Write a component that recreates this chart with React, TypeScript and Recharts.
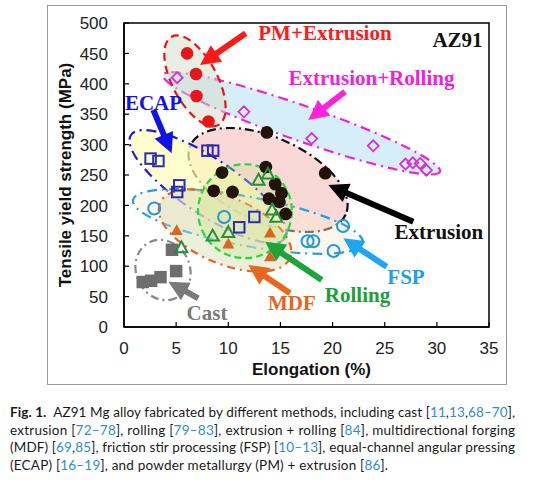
import React from 'react'
import {
  ScatterChart,
  Scatter,
  XAxis,
  YAxis,
  ReferenceArea,
  ReferenceLine,
  ReferenceDot,
} from 'recharts'

type P = { x: number; y: number }

const X_TICKS = [0, 5, 10, 15, 20, 25, 30, 35]
const Y_TICKS = [0, 50, 100, 150, 200, 250, 300, 350, 400, 450, 500]

// elongation (%) vs tensile yield strength (MPa)
const CAST: P[] = [
  { x: 1.8, y: 74 }, { x: 2.6, y: 76 }, { x: 3.5, y: 82 }, { x: 5.0, y: 92 }, { x: 4.6, y: 127 },
]
const EXTRUSION: P[] = [
  { x: 13.7, y: 320 }, { x: 19.3, y: 253 }, { x: 13.6, y: 263 }, { x: 9.4, y: 254 },
  { x: 8.6, y: 224 }, { x: 10.4, y: 222 }, { x: 14.5, y: 235 }, { x: 15.1, y: 220 },
  { x: 13.9, y: 211 }, { x: 14.9, y: 206 }, { x: 15.5, y: 186 },
]
const ROLLING: P[] = [
  { x: 12.9, y: 243 }, { x: 13.8, y: 253 }, { x: 14.2, y: 194 }, { x: 14.6, y: 182 },
  { x: 8.5, y: 151 }, { x: 10.0, y: 157 }, { x: 5.5, y: 132 },
]
const EXT_ROLLING: P[] = [
  { x: 5.1, y: 410 }, { x: 11.5, y: 354 }, { x: 18.0, y: 310 }, { x: 23.9, y: 298 },
  { x: 27.0, y: 268 }, { x: 27.7, y: 270 }, { x: 28.4, y: 269 }, { x: 29.0, y: 258 },
]
const MDF: P[] = [
  { x: 5.05, y: 160 }, { x: 10.0, y: 138 }, { x: 14.0, y: 156 }, { x: 14.0, y: 117 },
]
const FSP: P[] = [
  { x: 2.9, y: 195 }, { x: 9.6, y: 181 }, { x: 21.0, y: 166 }, { x: 17.6, y: 141 },
  { x: 18.15, y: 141 }, { x: 20.1, y: 125 },
]
const ECAP: P[] = [
  { x: 2.55, y: 277 }, { x: 3.3, y: 273 }, { x: 8.0, y: 290 }, { x: 8.55, y: 290 },
  { x: 5.3, y: 233 }, { x: 5.1, y: 222 }, { x: 12.5, y: 181 }, { x: 11.05, y: 164 },
]
const PM_EXTRUSION: P[] = [
  { x: 6.05, y: 450 }, { x: 6.9, y: 416 }, { x: 6.95, y: 380 }, { x: 8.1, y: 338 },
]

// shaded groups: ends of the long axis (data units)
const ELLIPSES = [
  { id: 'exRoll', from: { x: 3.77, y: 414.5 }, to: { x: 30.3, y: 255.4 } },
  { id: 'pm', from: { x: 4.57, y: 477.5 }, to: { x: 9.04, y: 332 } },
  { id: 'ext', from: { x: 6.37, y: 298.7 }, to: { x: 21.26, y: 185 } },
  { id: 'ecap', from: { x: 0.67, y: 315.8 }, to: { x: 15.44, y: 146.4 } },
  { id: 'fsp', from: { x: 0.86, y: 208.9 }, to: { x: 22.9, y: 138.2 } },
  { id: 'mdf', from: { x: 3.45, y: 204 }, to: { x: 15.92, y: 113.5 } },
  { id: 'roll', from: { x: 7.1, y: 191 }, to: { x: 16.1, y: 190 } },
  { id: 'cast', from: { x: 2.49, y: 139.8 }, to: { x: 4.99, y: 47.7 } },
]

const ELLIPSE_STYLE: Record<string, { ratio: number; fill: string; stroke: string; dash: string }> = {
  exRoll: { ratio: 0.12, fill: 'rgba(200,232,246,0.75)', stroke: '#ee22dd', dash: '10 5 2 5' },
  pm: { ratio: 0.45, fill: 'rgba(212,222,200,0.5)', stroke: '#ee1111', dash: '8 5' },
  ext: { ratio: 0.5, fill: 'rgba(248,192,192,0.62)', stroke: '#111111', dash: '9 4 2 4' },
  ecap: { ratio: 0.3, fill: 'rgba(255,255,185,0.7)', stroke: '#1a1ae6', dash: '10 5 2 5' },
  fsp: { ratio: 0.21, fill: 'rgba(250,234,215,0.45)', stroke: '#22a0e8', dash: '10 5 2 5' },
  mdf: { ratio: 0.47, fill: 'rgba(212,220,175,0.45)', stroke: '#e8641e', dash: '8 5 2 5' },
  roll: { ratio: 1, fill: 'rgba(205,228,150,0.35)', stroke: '#22dd33', dash: '7 4' },
  cast: { ratio: 0.87, fill: 'none', stroke: '#888888', dash: '8 4 2 4' },
}

// arrows: tail -> tip
const ARROWS = [
  { color: '#ff1a1a', from: { x: 11.67, y: 483 }, to: { x: 7.29, y: 431 } },
  { color: '#ff22dd', from: { x: 21.19, y: 387 }, to: { x: 17.67, y: 340.5 } },
  { color: '#1111ee', from: { x: 2.81, y: 357 }, to: { x: 4.57, y: 285.7 } },
  { color: '#000000', from: { x: 27.74, y: 173.2 }, to: { x: 19.59, y: 233.6 } },
  { color: '#1ea7f0', from: { x: 25.19, y: 99.2 }, to: { x: 21.03, y: 145.9 } },
  { color: '#1ea43c', from: { x: 18.96, y: 77.3 }, to: { x: 13.52, y: 140.3 } },
  { color: '#e8661e', from: { x: 15.92, y: 55.4 }, to: { x: 11.92, y: 102 } },
  { color: '#7a7a7a', from: { x: 7.12, y: 47.2 }, to: { x: 4.25, y: 74.5 } },
]

const LABELS = [
  { text: 'PM+Extrusion', color: '#ff1a1a', x: 19.27, y: 483.6 },
  { text: 'Extrusion+Rolling', color: '#ee22dd', x: 23.73, y: 409.5 },
  { text: 'ECAP', color: '#1010f0', x: 2.83, y: 368.4 },
  { text: 'AZ91', color: '#111111', x: 31.98, y: 472 },
  { text: 'Extrusion', color: '#111111', x: 30.2, y: 156.3 },
  { text: 'FSP', color: '#1ea0ec', x: 27.04, y: 82.2 },
  { text: 'Rolling', color: '#1e9e3c', x: 22.39, y: 52.6 },
  { text: 'MDF', color: '#e8641e', x: 16.1, y: 39.5 },
  { text: 'Cast', color: '#7a7a7a', x: 7.96, y: 23 },
]

const CAPTION: { t: string; k?: 'b' | 'ref' }[][] = [
  [
    { t: 'Fig. 1.', k: 'b' },
    { t: '\u2002AZ91 Mg alloy fabricated by different methods, including cast [' },
    { t: '11', k: 'ref' }, { t: ',' }, { t: '13', k: 'ref' }, { t: ',' }, { t: '68–70', k: 'ref' }, { t: '],' },
  ],
  [
    { t: 'extrusion [' }, { t: '72–78', k: 'ref' }, { t: '], rolling [' }, { t: '79–83', k: 'ref' },
    { t: '], extrusion + rolling [' }, { t: '84', k: 'ref' }, { t: '], multidirectional forging' },
  ],
  [
    { t: '(MDF) [' }, { t: '69', k: 'ref' }, { t: ',' }, { t: '85', k: 'ref' },
    { t: '], friction stir processing (FSP) [' }, { t: '10–13', k: 'ref' },
    { t: '], equal-channel angular pressing' },
  ],
  [
    { t: '(ECAP) [' }, { t: '16–19', k: 'ref' }, { t: '], and powder metallurgy (PM) + extrusion [' },
    { t: '86', k: 'ref' }, { t: '].' },
  ],
]
const CAPTION_WIDTHS = [505, 505, 505, 378]

const AXIS_FONT = '"Liberation Sans", Arial, sans-serif'
const NOTE_FONT = '"Liberation Serif", "Times New Roman", serif'
const Y_TICK_MARGIN = 16
const X_TICK_MARGIN = 15

function YTick(props: any) {
  const { x, y, payload } = props
  const ax = x + Y_TICK_MARGIN
  return (
    <g>
      <line x1={ax} x2={ax + 5} y1={y} y2={y} stroke="#000" strokeWidth={1.2} />
      <text x={x} y={y} dy="0.36em" textAnchor="end" fontSize={17} fill="#222" fontFamily={AXIS_FONT}>
        {payload.value}
      </text>
    </g>
  )
}

function XTick(props: any) {
  const { x, y, payload } = props
  const ay = y - X_TICK_MARGIN
  return (
    <g>
      <line x1={x} x2={x} y1={ay} y2={ay - 5} stroke="#000" strokeWidth={1.2} />
      <text x={x} y={y} dy="0.71em" textAnchor="middle" fontSize={17} fill="#222" fontFamily={AXIS_FONT}>
        {payload.value}
      </text>
    </g>
  )
}

const ellipseShape = (id: string) => (p: any) => {
  const s = ELLIPSE_STYLE[id]
  const { x, y, width: w, height: h } = p
  const cx = x + w / 2
  const cy = y + h / 2
  const a = Math.sqrt(w * w + h * h) / 2
  const ang = (Math.atan2(h, w) * 180) / Math.PI
  return (
    <ellipse
      cx={cx}
      cy={cy}
      rx={a}
      ry={a * s.ratio}
      transform={`rotate(${ang} ${cx} ${cy})`}
      fill={s.fill}
      stroke={s.stroke}
      strokeWidth={2.2}
      strokeDasharray={s.dash}
    />
  )
}

const arrowShape = (color: string) => (p: any) => {
  const { x1, y1, x2, y2 } = p
  const len = Math.hypot(x2 - x1, y2 - y1) || 1
  const dx = (x2 - x1) / len
  const dy = (y2 - y1) / len
  const nx = -dy
  const ny = dx
  const head = 20
  const hw = 10
  const sw = 3
  const bx = x2 - dx * head
  const by = y2 - dy * head
  const pts = [
    [x1 + nx * sw, y1 + ny * sw],
    [bx + nx * sw, by + ny * sw],
    [bx + nx * hw, by + ny * hw],
    [x2, y2],
    [bx - nx * hw, by - ny * hw],
    [bx - nx * sw, by - ny * sw],
    [x1 - nx * sw, y1 - ny * sw],
  ]
  return <polygon points={pts.map((q) => q.join(',')).join(' ')} fill={color} />
}

const labelShape = (text: string, color: string) => (p: any) => (
  <text
    x={p.cx}
    y={p.cy}
    dy="0.35em"
    textAnchor="middle"
    fontFamily={NOTE_FONT}
    fontWeight="bold"
    fontSize={21}
    fill={color}
  >
    {text}
  </text>
)

const filledCircle = (color: string, r: number) => (p: any) => (
  <circle cx={p.cx} cy={p.cy} r={r} fill={color} />
)
const openCircle = (color: string, r: number) => (p: any) => (
  <circle cx={p.cx} cy={p.cy} r={r} fill="none" stroke={color} strokeWidth={2} />
)
const square = (color: string, s: number, filled: boolean) => (p: any) => (
  <rect
    x={p.cx - s / 2}
    y={p.cy - s / 2}
    width={s}
    height={s}
    fill={filled ? color : 'none'}
    stroke={filled ? 'none' : color}
    strokeWidth={2}
  />
)
const triangle = (color: string, s: number, filled: boolean) => (p: any) => {
  const h = s * 0.9
  const pts = `${p.cx},${p.cy - h / 2} ${p.cx + s / 2},${p.cy + h / 2} ${p.cx - s / 2},${p.cy + h / 2}`
  return (
    <polygon
      points={pts}
      fill={filled ? color : 'none'}
      stroke={filled ? 'none' : color}
      strokeWidth={2}
    />
  )
}
const diamond = (color: string, s: number) => (p: any) => (
  <polygon
    points={`${p.cx},${p.cy - s} ${p.cx + s},${p.cy} ${p.cx},${p.cy + s} ${p.cx - s},${p.cy}`}
    fill="none"
    stroke={color}
    strokeWidth={1.8}
  />
)

export default function App() {
  return (
    <div style={{ position: 'absolute', left: 0, top: 0, width: 554, height: 480, background: '#fff' }}>
      <div
        style={{
          position: 'absolute',
          left: 47,
          top: 5,
          width: 460,
          height: 380,
          border: '1px solid #9a9a9a',
          boxSizing: 'border-box',
        }}
      />
      <div style={{ position: 'absolute', left: 0, top: 0 }}>
        <ScatterChart width={554} height={390} margin={{ top: 23, right: 65, left: 64, bottom: 11 }}>
          <XAxis
            dataKey="x"
            type="number"
            domain={[0, 35]}
            ticks={X_TICKS}
            height={52}
            tickSize={0}
            tickMargin={X_TICK_MARGIN}
            tickLine={false}
            tick={<XTick />}
            axisLine={{ stroke: '#000', strokeWidth: 1.5 }}
            label={{
              value: 'Elongation (%)',
              position: 'insideBottom',
              offset: 4,
              dx: 5,
              fill: '#111',
              fontSize: 17,
              fontWeight: 'bold',
              fontFamily: AXIS_FONT,
            }}
          />
          <YAxis
            dataKey="y"
            type="number"
            domain={[0, 500]}
            ticks={Y_TICKS}
            width={60}
            tickSize={0}
            tickMargin={Y_TICK_MARGIN}
            tickLine={false}
            tick={<YTick />}
            axisLine={{ stroke: '#000', strokeWidth: 1.5 }}
            label={{
              value: 'Tensile yield strength (MPa)',
              angle: -90,
              position: 'insideLeft',
              offset: 1,
              fill: '#111',
              fontSize: 17,
              fontWeight: 'bold',
              fontFamily: AXIS_FONT,
              style: { textAnchor: 'middle' },
            }}
          />

          {ELLIPSES.map((e) => (
            <ReferenceArea
              key={e.id}
              x1={e.from.x}
              x2={e.to.x}
              y1={e.from.y}
              y2={e.to.y}
              ifOverflow="visible"
              shape={ellipseShape(e.id)}
            />
          ))}
          <ReferenceArea x1={0} x2={35} y1={0} y2={500} fill="none" stroke="#000" strokeWidth={1.5} />

          <Scatter data={EXT_ROLLING} isAnimationActive={false} shape={diamond('#d62fd6', 5.5)} />
          <Scatter data={PM_EXTRUSION} isAnimationActive={false} shape={filledCircle('#e8151b', 6.3)} />
          <Scatter data={ECAP} isAnimationActive={false} shape={square('#2b2bb5', 10.5, false)} />
          <Scatter data={FSP} isAnimationActive={false} shape={openCircle('#1e9be0', 6)} />
          <Scatter data={MDF} isAnimationActive={false} shape={triangle('#d9661c', 12, true)} />
          <Scatter data={CAST} isAnimationActive={false} shape={square('#6e6e6e', 12.5, true)} />
          <Scatter data={EXTRUSION} isAnimationActive={false} shape={filledCircle('#23120a', 6.4)} />
          <Scatter data={ROLLING} isAnimationActive={false} shape={triangle('#23913a', 12, false)} />

          {ARROWS.map((a, i) => (
            <ReferenceLine
              key={`arrow-${i}`}
              segment={[a.from, a.to]}
              ifOverflow="visible"
              shape={arrowShape(a.color)}
            />
          ))}
          {LABELS.map((l) => (
            <ReferenceDot
              key={l.text}
              x={l.x}
              y={l.y}
              ifOverflow="visible"
              shape={labelShape(l.text, l.color)}
            />
          ))}
        </ScatterChart>
      </div>
      <svg width={554} height={90} style={{ position: 'absolute', left: 0, top: 390 }}>
        {CAPTION.map((line, i) => (
          <text
            key={i}
            x={10}
            y={26.7 + i * 17.8}
            textLength={CAPTION_WIDTHS[i]}
            lengthAdjust="spacing"
            fontFamily="Lato, 'Noto Sans', sans-serif"
            fontSize={13.5}
            fill="#1a1a1a"
          >
            {line.map((s, j) => (
              <tspan
                key={j}
                fontWeight={s.k === 'b' ? 'bold' : 'normal'}
                fill={s.k === 'ref' ? '#2f8ecf' : '#1a1a1a'}
              >
                {s.t}
              </tspan>
            ))}
          </text>
        ))}
      </svg>
    </div>
  )
}
